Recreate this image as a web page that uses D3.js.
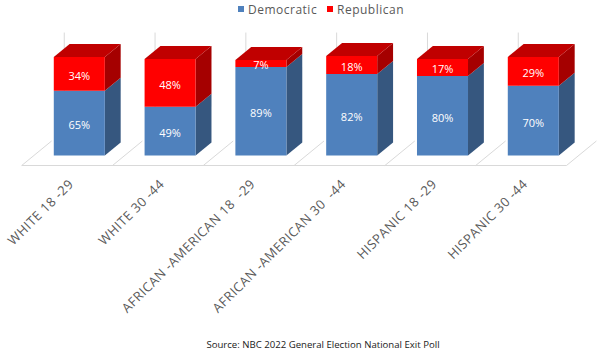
<!DOCTYPE html>
<html>
<head>
<meta charset="utf-8">
<script src="https://cdn.jsdelivr.net/npm/d3@7"></script>
<style>
  body { margin: 0; background: #fff; }
  svg { display: block; font-family: "Open Sans", sans-serif; }
</style>
</head>
<body>
<svg id="chart" width="615" height="354"></svg>
<script>
// data
var groups = ["WHITE 18 -29", "WHITE 30 -44", "AFRICAN -AMERICAN 18  -29", "AFRICAN -AMERICAN 30  -44", "HISPANIC 18 -29", "HISPANIC 30 -44"]
var democratic = [65, 49, 89, 82, 80, 70]
var republican = [34, 48, 7, 18, 17, 29]
var seriesNames = ["Democratic", "Republican"]
var source = "Source: NBC 2022 General Election National Exit Poll"

var svg = d3.select("#chart")

// fake 3d set up
var floorY = 165.5      // front edge of the floor
var skew = 1.22         // dx per px of depth
var zFront = 10, zBack = 23, zWall = 24

var x = d3.scaleBand().domain(groups).range([21.7, 566.5]).paddingInner(0.438).paddingOuter(0.219)
var h = d3.scaleLinear().domain([0, 100]).range([0, 99.5])

function P(px, z, v) { return [px + z * skew, floorY - z - h(v)] }
function poly(pts) { return "M" + pts.map(function(p) { return p.join(",") }).join("L") + "Z" }

var frontCol = { dem: "#4f81bd", rep: "#ff0000" }
var sideCol = { dem: "#36577f", rep: "#a50000" }
var topCol = { dem: "#6b93c8", rep: "#c00000" }

// floor
var step = x.step()
var x0 = x.range()[0]
svg.append("line").attr("x1", x0).attr("x2", x0 + step * groups.length)
  .attr("y1", floorY).attr("y2", floorY).attr("stroke", "#d9d9d9")
d3.range(groups.length + 1).forEach(function(i) {
  var a = P(x0 + i * step, 0, 0), b = P(x0 + i * step, zWall + 0.5, 0)
  svg.append("line").attr("x1", a[0]).attr("y1", a[1]).attr("x2", b[0]).attr("y2", b[1]).attr("stroke", "#d9d9d9")
})

// back wall lines
groups.forEach(function(g) {
  var a = P(x(g) - 6, zWall - 0.5, 0), b = P(x(g) - 6, zWall - 0.5, 110)
  svg.append("line").attr("x1", a[0]).attr("y1", a[1]).attr("x2", b[0]).attr("y2", b[1]).attr("stroke", "#d9d9d9")
})

// bars
var bw = x.bandwidth()
groups.forEach(function(g, i) {
  var segs = [
    { key: "dem", lo: 0, hi: democratic[i] },
    { key: "rep", lo: democratic[i], hi: democratic[i] + republican[i] }
  ]
  var bar = svg.append("g")
  segs.forEach(function(s, j) {
    var l = x(g), r = x(g) + bw
    // side
    bar.append("path").attr("fill", sideCol[s.key])
      .attr("d", poly([P(r, zFront, s.lo), P(r, zBack, s.lo), P(r, zBack, s.hi), P(r, zFront, s.hi)]))
    // front
    bar.append("path").attr("fill", frontCol[s.key])
      .attr("d", poly([P(l, zFront, s.lo), P(r, zFront, s.lo), P(r, zFront, s.hi), P(l, zFront, s.hi)]))
    if (j == segs.length - 1) {
      bar.append("path").attr("fill", topCol[s.key])
        .attr("d", poly([P(l, zFront, s.hi), P(r, zFront, s.hi), P(r, zBack, s.hi), P(l, zBack, s.hi)]))
    }
    var c = P(l + bw / 2, zFront, (s.lo + s.hi) / 2)
    bar.append("text").attr("x", c[0]).attr("y", c[1] + 1.5)
      .attr("text-anchor", "middle").attr("dominant-baseline", "central")
      .style("font-size", "11px").style("fill", "#fff")
      .text((s.hi - s.lo) + "%")
  })
})

// category labels
groups.forEach(function(g) {
  var c = P(x(g) + bw / 2, zFront, 0)
  svg.append("text")
    .attr("transform", "translate(" + (c[0] - 5) + ",185) rotate(-45)")
    .attr("text-anchor", "end")
    .style("font-size", "13px").style("letter-spacing", "0.5px")
    .style("fill", "#595959").style("white-space", "pre")
    .text(g)
})

// legend
var legX = [238, 327]
seriesNames.forEach(function(n, i) {
  svg.append("rect").attr("x", legX[i]).attr("y", 6).attr("width", 6).attr("height", 6)
    .attr("fill", i == 0 ? frontCol.dem : frontCol.rep)
  svg.append("text").attr("x", legX[i] + 10).attr("y", 13.5)
    .style("font-size", "12px").style("letter-spacing", "0.5px").style("fill", "#595959")
    .text(n)
})

svg.append("text").attr("x", 323).attr("y", 348).attr("text-anchor", "middle")
  .style("font-size", "9.6px").style("fill", "#1a1a1a")
  .text(source)
</script>
</body>
</html>
